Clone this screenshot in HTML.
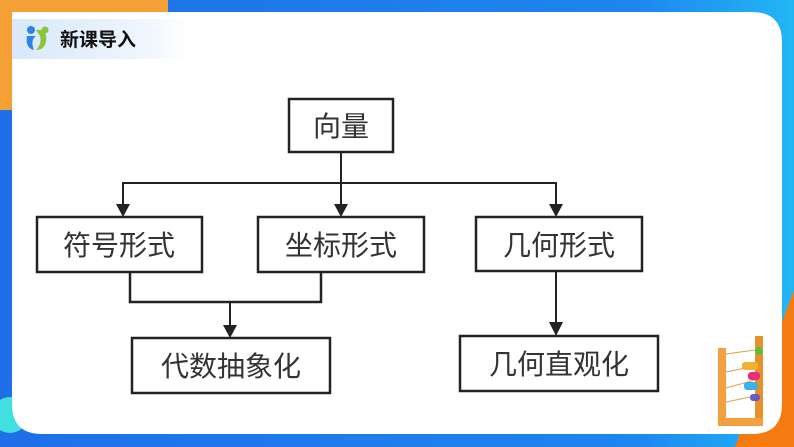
<!DOCTYPE html>
<html><head><meta charset="utf-8"><style>
html,body{margin:0;padding:0;width:794px;height:447px;overflow:hidden;background:#2a7bf0;}
</style></head><body>
<svg width="794" height="447" viewBox="0 0 794 447" xmlns="http://www.w3.org/2000/svg" style="position:absolute;left:0;top:0">
<defs>
<linearGradient id="tb" x1="0" x2="1" y1="0" y2="0"><stop offset="0" stop-color="#1f6fe8"/><stop offset="0.8" stop-color="#1d86f0"/><stop offset="1" stop-color="#23b6f5"/></linearGradient>
<linearGradient id="hd" x1="0" x2="1"><stop offset="0" stop-color="#d8e8fa"/><stop offset="0.7" stop-color="#eef5fd"/><stop offset="1" stop-color="#ffffff"/></linearGradient>
</defs>
<rect width="794" height="447" fill="url(#tb)"/>
<rect x="0" y="0" width="168" height="60" fill="#f5a035"/>
<rect x="0" y="60" width="12" height="50" fill="#f5a035"/>
<path d="M794 290 L794 447 L735 447 Q760 380 794 290Z" fill="#f57a10"/>
<circle cx="10" cy="415" r="18" fill="#40e0e0"/>
<path d="M12 12 L752 12 Q782 12 782 42 L782 404 Q782 434 752 434 L42 434 Q12 434 12 404 Z" fill="#fff"/>
<rect x="12" y="19" width="180" height="40" fill="url(#hd)"/>
<circle cx="31" cy="30" r="4" fill="#2a84e8"/>
<path d="M27 36 Q25 48 34 50 Q30 40 36 36Z" fill="#2a84e8"/>
<path d="M36 30 Q48 28 46 42 Q44 50 36 50 Q42 44 40 36Z" fill="#8bc53f"/>
<circle cx="45" cy="30" r="3.5" fill="#8bc53f"/>
<text x="60" y="46" font-family="Liberation Sans,Noto Sans CJK SC,sans-serif" font-size="19" font-weight="bold" fill="#111">新课导入</text>
<g stroke="#222" stroke-width="2.5" fill="#fff">
<rect x="289" y="99" width="104" height="53"/>
<rect x="37" y="217" width="165" height="55"/>
<rect x="258" y="217" width="166" height="55"/>
<rect x="476" y="217" width="166" height="54"/>
<rect x="132" y="338" width="198" height="55"/>
<rect x="460" y="336" width="198" height="55"/>
</g>
<g stroke="#222" stroke-width="2" fill="none">
<path d="M341 152 V206"/>
<path d="M123 206 V183 H556 V206"/>
<path d="M130 273 V302 H321 V273" stroke-width="2.5"/>
<path d="M230 302 V327"/>
<path d="M556 271 V324"/>
</g>
<g fill="#222">
<path d="M116 204 L130 204 L123 217Z"/>
<path d="M334 204 L348 204 L341 217Z"/>
<path d="M549 204 L563 204 L556 217Z"/>
<path d="M223 325 L237 325 L230 338Z"/>
<path d="M549 322 L563 322 L556 336Z"/>
</g>
<g font-family="Liberation Sans,Noto Sans CJK SC,sans-serif" font-size="28" fill="#333" text-anchor="middle">
<text x="341" y="136">向量</text>
<text x="119" y="255">符号形式</text>
<text x="341" y="255">坐标形式</text>
<text x="559" y="255">几何形式</text>
<text x="231" y="376">代数抽象化</text>
<text x="559" y="374">几何直观化</text>
</g>
<g>
<rect x="718" y="348" width="8" height="78" fill="#f2a040"/>
<rect x="755" y="336" width="8" height="84" fill="#e8902a"/>
<rect x="718" y="418" width="45" height="8" fill="#f2a040"/>
<g stroke="#e0a050" stroke-width="1"><line x1="726" y1="354" x2="755" y2="350"/><line x1="726" y1="372" x2="755" y2="366"/><line x1="726" y1="388" x2="755" y2="380"/><line x1="726" y1="402" x2="755" y2="396"/></g>
<circle cx="759" cy="351" r="4" fill="#5bbf3a"/>
<rect x="742" y="362" width="16" height="8" rx="3" fill="#f5b030"/>
<rect x="748" y="372" width="12" height="8" rx="3" fill="#e8307a"/>
<rect x="744" y="382" width="14" height="8" rx="3" fill="#40b0e8"/>
<rect x="750" y="394" width="10" height="7" rx="3" fill="#6a5ac8"/>
</g>
</svg>
</body></html>
